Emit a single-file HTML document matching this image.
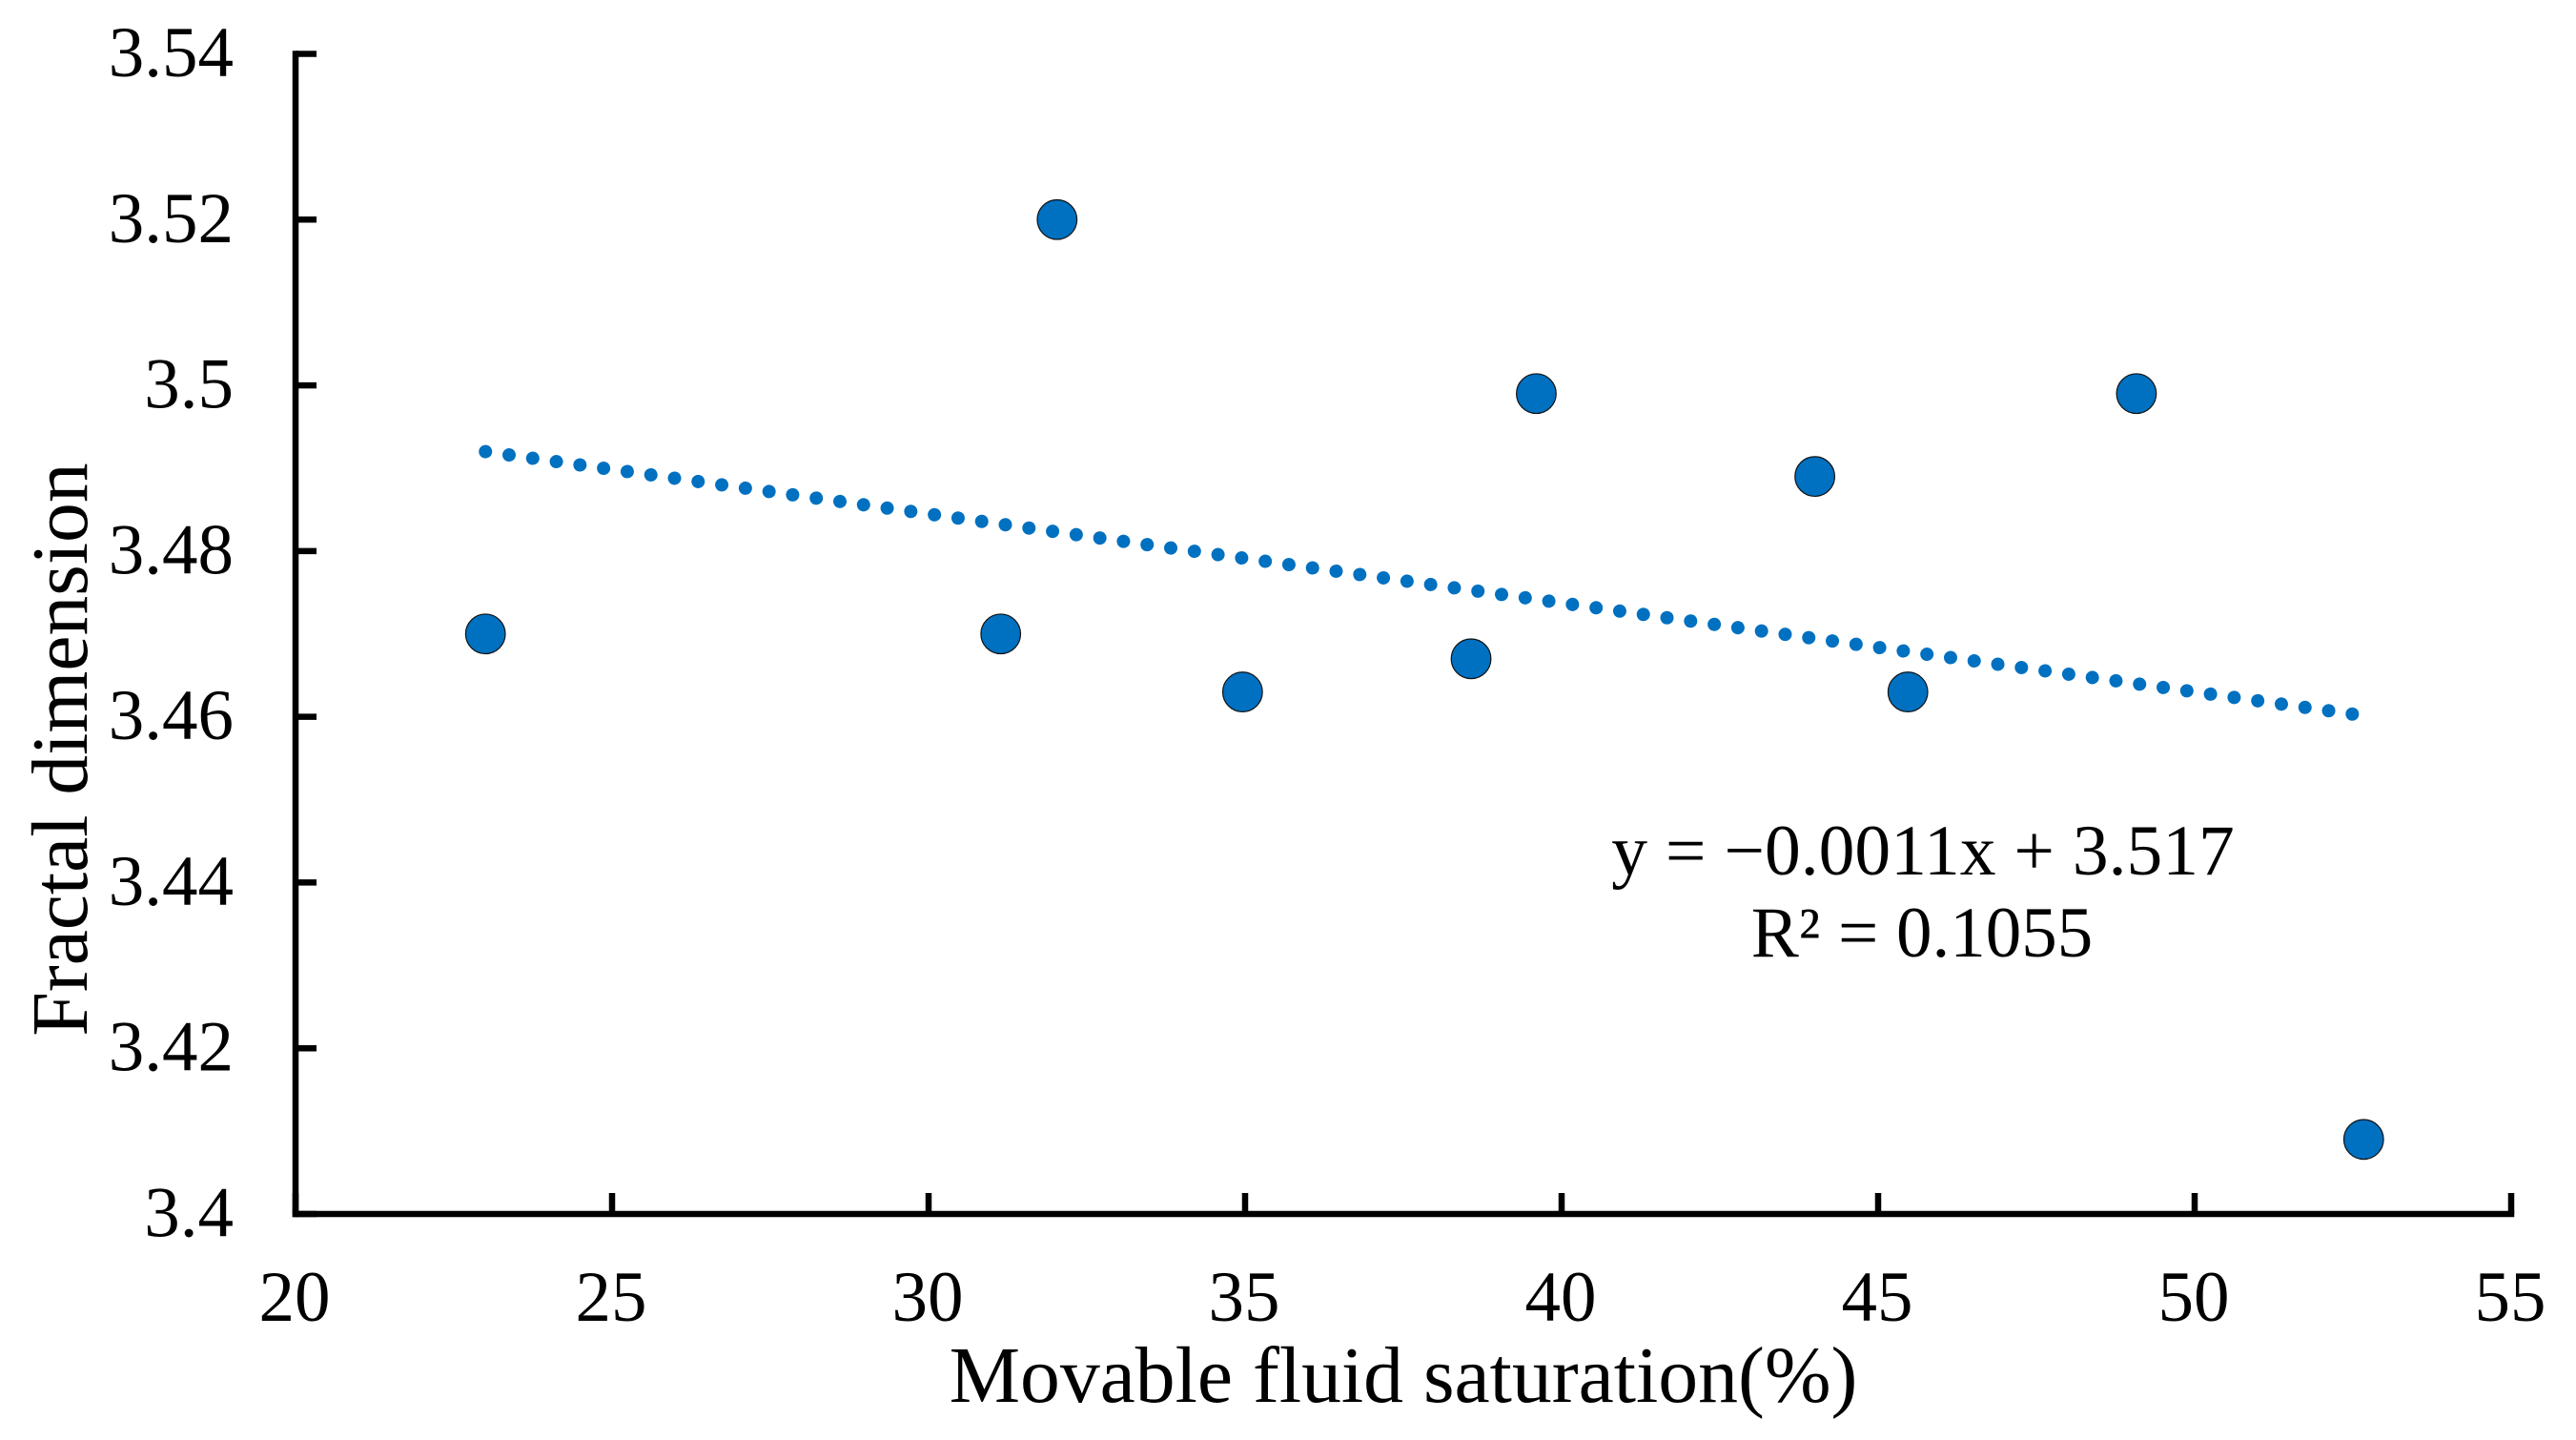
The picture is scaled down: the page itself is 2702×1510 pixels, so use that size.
<!DOCTYPE html>
<html lang="en">
<head>
<meta charset="utf-8">
<title>Fractal dimension vs movable fluid saturation</title>
<style>
html,body{margin:0;padding:0;background:#fff;width:2702px;height:1510px;overflow:hidden}
svg{display:block}
text{font-family:"Liberation Serif",serif;fill:#000}
</style>
</head>
<body>
<svg id="chart" xmlns="http://www.w3.org/2000/svg" width="2702" height="1510" viewBox="0 0 2702 1510">
  <rect width="2702" height="1510" fill="#fff"/>
  <g id="axes"></g>
  <g id="trend"></g>
  <g id="points"></g>
  <text x="1472" y="1470" font-size="83.7" text-anchor="middle">Movable fluid saturation(%)</text>
  <text transform="translate(91,786) rotate(-90)" font-size="83.6" text-anchor="middle">Fractal dimension</text>
  <text x="2017" y="917" font-size="75.5" text-anchor="middle">y = −0.0011x + 3.517</text>
  <text x="2016" y="1003" font-size="75" text-anchor="middle">R² = 0.1055</text>
</svg>
<script>
const xTicks = [20, 25, 30, 35, 40, 45, 50, 55];
const yTicks = [3.4, 3.42, 3.44, 3.46, 3.48, 3.5, 3.52, 3.54];
const yTickLabels = ["3.4", "3.42", "3.44", "3.46", "3.48", "3.5", "3.52", "3.54"];
const saturation = [23.0, 31.14, 32.03, 34.96, 38.57, 39.6, 44.0, 45.47, 49.08, 52.67];
const fractalDim = [3.47, 3.47, 3.52, 3.463, 3.467, 3.499, 3.489, 3.463, 3.499, 3.409];
const trendX = [23.0, 52.52];
const trendY = [3.492, 3.4603];

const NS = 'http://www.w3.org/2000/svg';
const X0 = 310, X1 = 2634, Y0 = 1273, Y1 = 56.5;
const xMin = 20, xMax = 55, yMin = 3.4, yMax = 3.54;
function sx(v) { return X0 + (v - xMin) / (xMax - xMin) * (X1 - X0); }
function sy(v) { return Y0 - (v - yMin) / (yMax - yMin) * (Y0 - Y1); }
function mk(tag, attrs, parent) {
  const el = document.createElementNS(NS, tag);
  for (const k in attrs) el.setAttribute(k, attrs[k]);
  parent.appendChild(el);
  return el;
}
const axes = document.getElementById('axes');
const AXW = 6.5, TICK = 22;

const xAxis = mk('line', {x1: X0 - AXW / 2, x2: X1 + AXW / 2, y1: Y0, y2: Y0, stroke: '#000', 'stroke-width': AXW}, axes);



const yAxis = mk('line', {x1: X0, x2: X0, y1: Y1 - AXW / 2, y2: Y0 + AXW / 2, stroke: '#000', 'stroke-width': AXW}, axes);



xTicks.forEach(function (t) {
  const tick = mk('line', {x1: sx(t), x2: sx(t), y1: Y0, y2: Y0 - TICK, stroke: '#000', 'stroke-width': AXW}, axes);
  
  
  const label = mk('text', {x: sx(t) - 1, y: 1385, 'font-size': 75, 'text-anchor': 'middle'}, axes);
  label.textContent = String(t);
  
  
});

yTicks.forEach(function (t, i) {
  const tick = mk('line', {x1: X0, x2: X0 + TICK, y1: sy(t), y2: sy(t), stroke: '#000', 'stroke-width': AXW}, axes);
  
  
  const label = mk('text', {x: 245, y: sy(t) + 23.5, 'font-size': 75, 'text-anchor': 'end'}, axes);
  label.textContent = yTickLabels[i];
  
  
});

const trendLine = mk('line', {
  x1: sx(trendX[0]), y1: sy(trendY[0]), x2: sx(trendX[1]), y2: sy(trendY[1]),
  stroke: '#0070c0', 'stroke-width': 14, 'stroke-linecap': 'round', 'stroke-dasharray': '0.01 25.02'
}, document.getElementById('trend'));



const pts = document.getElementById('points');
saturation.forEach(function (x, i) {
  const c = mk('circle', {cx: sx(x), cy: sy(fractalDim[i]), r: 20.8, fill: '#0070c0', stroke: '#111', 'stroke-width': 1.2}, pts);
  
  
});
</script>
</body>
</html>
